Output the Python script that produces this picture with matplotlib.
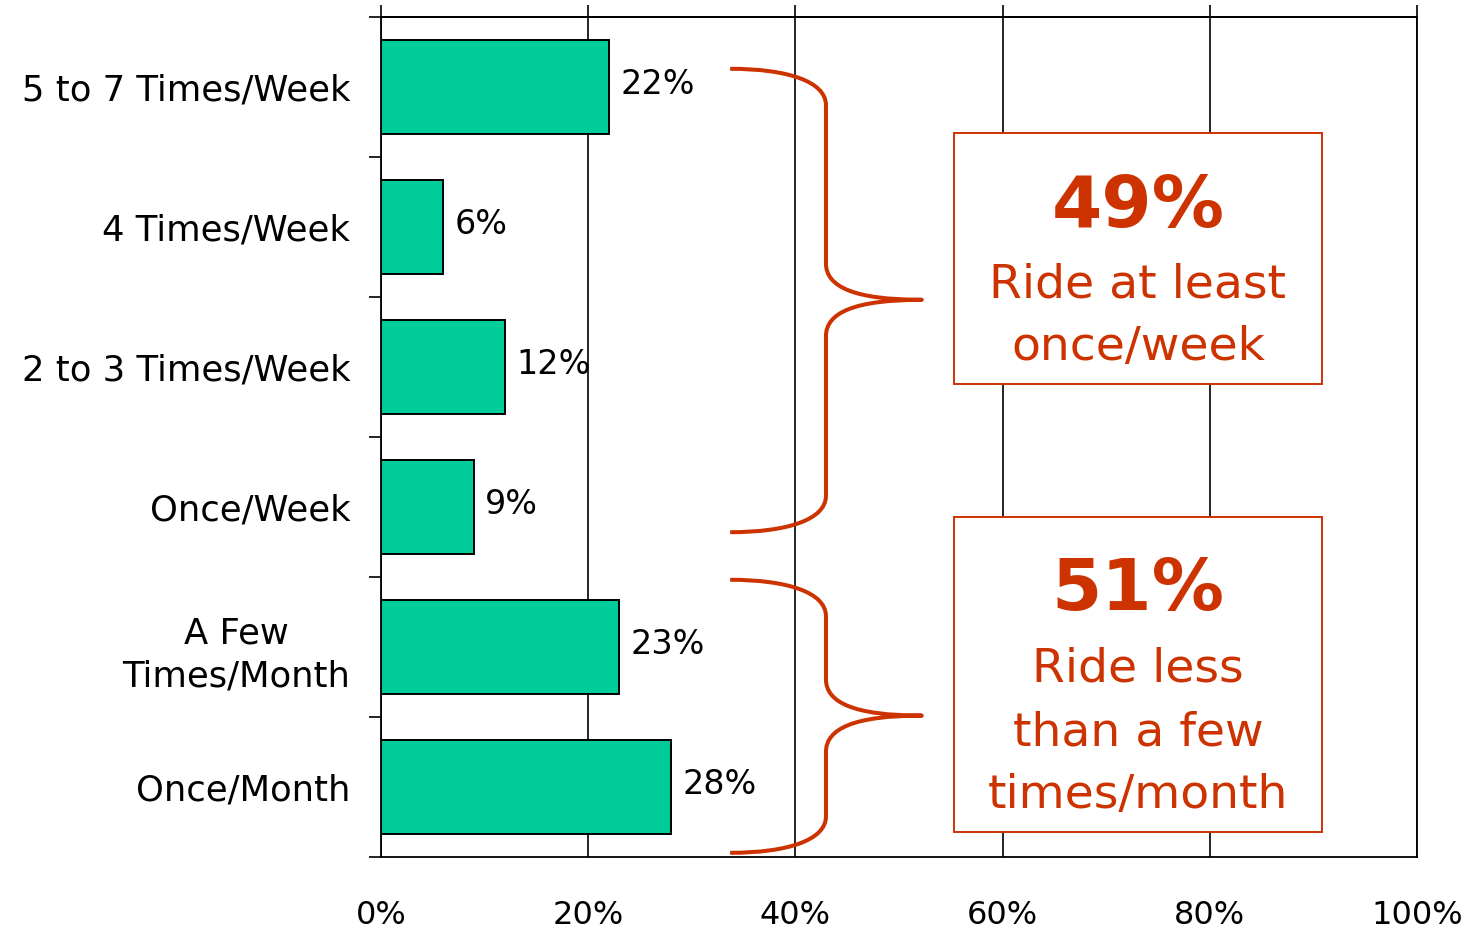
import numpy as np
import matplotlib
matplotlib.use("Agg")
import matplotlib.pyplot as plt
from matplotlib.path import Path
from matplotlib.patches import PathPatch, Rectangle

# ---- data ----
categories = ["5 to 7 Times/Week", "4 Times/Week", "2 to 3 Times/Week",
              "Once/Week", "A Few\nTimes/Month", "Once/Month"]
values = [22, 6, 12, 9, 23, 28]
x_ticks = [0, 20, 40, 60, 80, 100]
x_tick_labels = ["0%", "20%", "40%", "60%", "80%", "100%"]
group_pcts = ["49%", "51%"]
group_texts = [["Ride at least", "once/week"],
               ["Ride less", "than a few", "times/month"]]

# ---- style ----
BAR = "#00CC99"
ORANGE = "#CC3300"
plt.rcParams["font.family"] = ["DejaVu Sans"]

W, H = 1479, 931
fig = plt.figure(figsize=(W / 100, H / 100), dpi=100)
ax = fig.add_axes([381 / W, 1 - 857 / H, 1036 / W, 840 / H])

y = np.arange(len(categories))
ax.barh(y, values, height=0.67, color=BAR, edgecolor="black", linewidth=1.4, zorder=3)
ax.set_xlim(0, 100)
ax.set_ylim(len(categories) - 0.5, -0.5)

# value labels
for yi, v in zip(y, values):
    ax.annotate(f"{v}%", xy=(v, yi), xytext=(8, 2), textcoords="offset points",
                va="center", ha="left", fontsize=24, color="black", zorder=4)

# axes, grid, ticks
ax.grid(axis="x", color="black", linewidth=1.2, zorder=1)
for s in ax.spines.values():
    s.set_color("black")
    s.set_linewidth(1.3)
ax.set_xticks(x_ticks)
ax.set_xticklabels(x_tick_labels, fontsize=23)
ax.tick_params(axis="x", length=0, pad=31)
sec = ax.secondary_xaxis("top")
sec.set_xticks(x_ticks)
sec.tick_params(axis="x", length=8.6, width=1.2, direction="out", labeltop=False)
sec.spines["top"].set_linewidth(1.3)

ax.set_yticks(y)
ax.set_yticklabels(categories, fontsize=25.5)
for lab in ax.get_yticklabels():
    lab.set_multialignment("center")
    lab.set_linespacing(1.35)
ax.set_yticks(np.arange(-0.5, len(categories), 1), minor=True)
ax.tick_params(axis="y", which="major", length=0, pad=22)
ax.tick_params(axis="y", which="minor", length=8.6, width=1.2, direction="out")


# ---- braces ----
def brace(ax, xl, xm, xt, yt, yb, ym, r):
    w = xm - xl
    t = xt - xm
    verts = [
        (xl, yt), (xl + 0.6 * w, yt), (xm, yt + 0.35 * r), (xm, yt + r),
        (xm, ym - r),
        (xm, ym - 0.35 * r), (xm + 0.3 * t, ym), (xt, ym),
        (xm + 0.3 * t, ym), (xm, ym + 0.35 * r), (xm, ym + r),
        (xm, yb - r),
        (xm, yb - 0.35 * r), (xl + 0.6 * w, yb), (xl, yb),
    ]
    codes = [Path.MOVETO, Path.CURVE4, Path.CURVE4, Path.CURVE4,
             Path.LINETO,
             Path.CURVE4, Path.CURVE4, Path.CURVE4,
             Path.CURVE4, Path.CURVE4, Path.CURVE4,
             Path.LINETO,
             Path.CURVE4, Path.CURVE4, Path.CURVE4]
    p = PathPatch(Path(verts, codes), facecolor="none", edgecolor=ORANGE,
                  linewidth=2.9, capstyle="butt", joinstyle="round",
                  zorder=5, clip_on=False)
    ax.add_patch(p)


brace(ax, 33.7, 42.95, 52.2, -0.13, 3.18, 1.52, 0.26)
brace(ax, 33.7, 42.95, 52.2, 3.52, 5.47, 4.49, 0.26)

# ---- boxes ----
boxes = [(55.3, 0.329, 90.83, 2.121), (55.3, 3.071, 90.83, 5.321)]
pct_y = [1.0, 3.736]
line_y = [[1.5, 1.95], [4.25, 4.7, 5.15]]
for (x0, y0, x1, y1), pct, lines, py, lys in zip(boxes, group_pcts, group_texts, pct_y, line_y):
    ax.add_patch(Rectangle((x0, y0), x1 - x0, y1 - y0, facecolor="white",
                           edgecolor=ORANGE, linewidth=1.4, zorder=6))
    xc = (x0 + x1) / 2
    ax.text(xc, py, pct, ha="center", va="baseline", fontsize=52,
            fontweight="bold", color=ORANGE, zorder=7)
    for ln, ly in zip(lines, lys):
        ax.text(xc, ly, ln, ha="center", va="baseline", fontsize=34,
                color=ORANGE, zorder=7)

fig.savefig("out.png", dpi=100)
